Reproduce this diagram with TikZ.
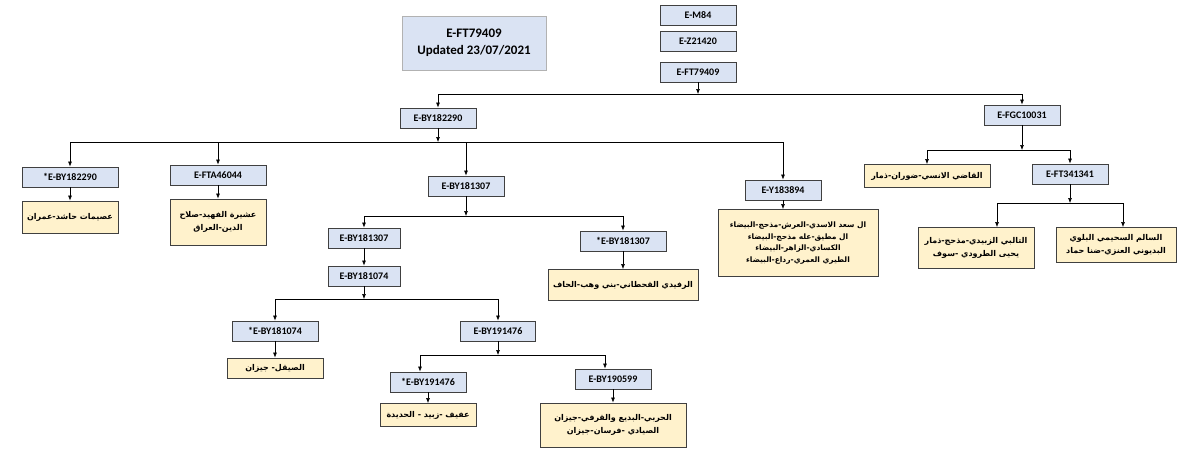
\documentclass[tikz,border=0pt]{standalone}
\usepackage{fontspec}
\setmainfont{Carlito}
\newfontfamily\arf[Script=Arabic]{DejaVu Sans}
\usetikzlibrary{arrows.meta}
\TeXXeTstate=1
\definecolor{hb}{HTML}{DAE3F3}
\definecolor{ty}{HTML}{FFF2CC}
\newcommand{\AR}[1]{{\arf\bfseries\beginR #1\endR}}
\begin{document}
\begin{tikzpicture}[x=1pt,y=-1pt,
 hap/.style={draw=black!75,line width=0.9pt,fill=hb,minimum height=20pt,minimum width=#1pt,inner sep=1pt,font=\bfseries\fontsize{10}{11}\selectfont},
 hap/.default=76,
 tb/.style={draw=black!75,line width=0.9pt,fill=ty,minimum width=#1pt,inner sep=3pt,align=center,font=\fontsize{8}{13}\selectfont},
 arr/.style={-{Latex[length=5pt,width=4pt]},line width=0.6pt},
 ln/.style={line width=0.6pt}]
\useasboundingbox (0,0) rectangle (1200,463);
\node[draw=black!30,fill=hb,minimum width=144pt,minimum height=54pt,align=center,font=\bfseries\fontsize{13}{17}\selectfont] (title) at (474,43) {E-FT79409\\Updated 23/07/2021};
\node[hap] (m84) at (698,15) {E-M84};
\node[hap] (z) at (698,41) {E-Z21420};
\node[hap] (ft) at (698,72) {E-FT79409};
\node[hap] (b182) at (438,118) {E-BY182290};
\node[hap] (fgc) at (1022,115) {E-FGC10031};
\node[hap=96] (sb182) at (70,177) {*E-BY182290};
\node[tb=96,minimum height=32pt] (t1) at (70,217) {\AR{عصيمات حاشد-عمران}};
\node[hap=96] (fta) at (218,175) {E-FTA46044};
\node[tb=96,minimum height=46pt] (t2) at (218,222) {\AR{عشيرة الفهيد-صلاح}\\\AR{الدين-العراق}};
\node[hap] (b1307) at (466,186) {E-BY181307};
\node[hap] (y18) at (783,190) {E-Y183894};
\node[tb=160,minimum height=67pt,font=\fontsize{7.5}{11.5}\selectfont] (t3) at (798,243) {\AR{ال سعد الاسدي-العرش-مذحج-البيضاء}\\\AR{ال مطيق-عله مذحج-البيضاء}\\\AR{الكسادي-الزاهر-البيضاء}\\\AR{الطيري العمري-رداع-البيضاء}};
\node[tb=126,minimum height=23pt] (t4) at (927,176) {\AR{القاضي الانسي-ضوران-ذمار}};
\node[hap] (ft34) at (1070,174) {E-FT341341};
\node[tb=116,minimum height=41pt] (t5) at (976,248) {\AR{التالبي الزبيدي-مذحج-ذمار}\\\AR{يحيى الطرودي -سوف}};
\node[tb=120,minimum height=35pt] (t6) at (1116,245) {\AR{السالم السحيمي البلوي}\\\AR{البديوني العنزي-ضنا حماد}};
\node[hap=72] (b1307l) at (364,238) {E-BY181307};
\node[hap=86] (sb1307) at (623,241) {*E-BY181307};
\node[tb=150,minimum height=31pt] (t7) at (623,285) {\AR{الرفيدي القحطاني-بني وهب-الحاف}};
\node[hap=72] (b1074) at (364,276) {E-BY181074};
\node[hap=86] (sb1074) at (275,331) {*E-BY181074};
\node[tb=96,minimum height=20pt] (t8) at (275,368) {\AR{الصيقل- جيزان}};
\node[hap=75] (b1476) at (498,331) {E-BY191476};
\node[hap=76] (sb1476) at (428,382) {*E-BY191476};
\node[tb=96,minimum height=23pt] (t9) at (428,415) {\AR{عفيف -زبيد - الحديدة}};
\node[hap=76] (b0599) at (613,379) {E-BY190599};
\node[tb=146,minimum height=44pt] (t10) at (613,425) {\AR{الحربي-البديع والقرفي-جيزان}\\\AR{الصيادي -فرسان-جيزان}};
% trees
\coordinate (c1) at (698,94);
\draw[arr] (ft) -- (c1);
\draw[ln] (b182.north |- c1) -- (fgc.north |- c1);
\draw[arr] (b182.north |- c1) -- (b182);
\draw[arr] (fgc.north |- c1) -- (fgc);
\coordinate (c2) at (438,142);
\draw[arr] (b182) -- (c2);
\draw[ln] (sb182.north |- c2) -- (y18.north |- c2);
\foreach \n in {sb182,fta,b1307,y18} \draw[arr] (\n.north |- c2) -- (\n);
\coordinate (c3) at (1022,150);
\draw[arr] (fgc) -- (c3);
\draw[ln] (t4.north |- c3) -- (ft34.north |- c3);
\foreach \n in {t4,ft34} \draw[arr] (\n.north |- c3) -- (\n);
\coordinate (c4) at (1070,203);
\draw[arr] (ft34) -- (c4);
\coordinate (c4a) at (997,203); \coordinate (c4b) at (1123,203);
\draw[ln] (c4a) -- (c4b);
\draw[arr] (c4a) -- (c4a |- t5.north);
\draw[arr] (c4b) -- (c4b |- t6.north);
\coordinate (c5) at (466,216);
\draw[arr] (b1307) -- (c5);
\draw[ln] (b1307l.north |- c5) -- (sb1307.north |- c5);
\foreach \n in {b1307l,sb1307} \draw[arr] (\n.north |- c5) -- (\n);
\coordinate (c6) at (364,299);
\draw[arr] (b1074) -- (c6);
\draw[ln] (sb1074.north |- c6) -- (b1476.north |- c6);
\foreach \n in {sb1074,b1476} \draw[arr] (\n.north |- c6) -- (\n);
\coordinate (c7) at (498,355);
\draw[arr] (b1476) -- (c7);
\coordinate (c7a) at (420,355); \coordinate (c7b) at (605,355);
\draw[ln] (c7a) -- (c7b);
\draw[arr] (c7a) -- (c7a |- sb1476.north);
\draw[arr] (c7b) -- (c7b |- b0599.north);
% direct
\draw[arr] (sb182) -- (t1);
\draw[arr] (fta) -- (t2);
\draw[arr] (y18) -- (y18 |- t3.north);
\draw[arr] (b1307l) -- (b1074);
\draw[arr] (sb1307) -- (t7);
\draw[arr] (sb1074) -- (t8);
\draw[arr] (sb1476) -- (t9);
\draw[arr] (b0599) -- (t10);
\end{tikzpicture}
\end{document}
